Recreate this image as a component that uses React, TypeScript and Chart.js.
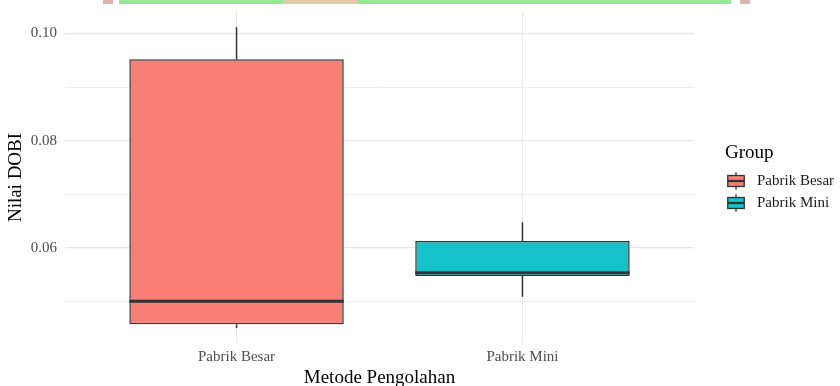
import React, { useEffect, useRef } from "react";
import { Chart, registerables } from "chart.js";

Chart.register(...registerables);

// Box-plot summary per processing method (DOBI value)
const categories = ["Pabrik Besar", "Pabrik Mini"];
const whiskerLow = [0.0451, 0.0509];
const quartile1 = [0.0458, 0.0548];
const medians = [0.0501, 0.0554];
const quartile3 = [0.0952, 0.0613];
const whiskerHigh = [0.1012, 0.0648];
const fills = ["#F87E77", "#14C2C9"];

// y grid positions; only the even ones carry a label
const yGrid = [0.05, 0.06, 0.07, 0.08, 0.09, 0.1];
const yLabelled = [0.06, 0.08, 0.1];
const yMin = 0.0423;
const yMax = 0.104;

const SERIF = "'Liberation Serif', 'DejaVu Serif', serif";
const OUTLINE = "#333333";

const isLabelled = (v: number) => yLabelled.some((t) => Math.abs(t - v) < 1e-9);

// whiskers and median bars, placed with the chart's own scales
const boxParts = {
  id: "boxParts",
  afterDatasetsDraw(chart: any) {
    const { ctx, scales } = chart;
    const x = scales.x;
    const y = scales.y;
    const meta = chart.getDatasetMeta(0);
    ctx.save();
    ctx.strokeStyle = OUTLINE;
    ctx.lineCap = "butt";
    meta.data.forEach((bar: any, i: number) => {
      const cx = x.getPixelForValue(i + 1);
      const half = bar.getProps(["width"], true).width / 2;
      ctx.lineWidth = 1.5;
      ctx.beginPath();
      ctx.moveTo(cx, y.getPixelForValue(quartile3[i]));
      ctx.lineTo(cx, y.getPixelForValue(whiskerHigh[i]));
      ctx.moveTo(cx, y.getPixelForValue(quartile1[i]));
      ctx.lineTo(cx, y.getPixelForValue(whiskerLow[i]));
      ctx.stroke();
      ctx.lineWidth = 3;
      const my = y.getPixelForValue(medians[i]);
      ctx.beginPath();
      ctx.moveTo(cx - half, my);
      ctx.lineTo(cx + half, my);
      ctx.stroke();
    });
    ctx.restore();
  },
};

// legend with box-plot glyphs on the right
const groupLegend = {
  id: "groupLegend",
  afterDraw(chart: any) {
    const { ctx } = chart;
    const left = chart.chartArea.right + 31;
    ctx.save();
    ctx.fillStyle = "#000000";
    ctx.font = `19px ${SERIF}`;
    ctx.textAlign = "left";
    ctx.textBaseline = "middle";
    ctx.fillText("Group", left, 153);
    const key = 22;
    categories.forEach((name, i) => {
      const cy = 181 + i * key;
      const top = cy - key / 2;
      const cx = left + key / 2;
      ctx.strokeStyle = OUTLINE;
      ctx.lineWidth = 1.3;
      ctx.beginPath();
      ctx.moveTo(cx, top + key * 0.1);
      ctx.lineTo(cx, top + key * 0.25);
      ctx.moveTo(cx, top + key * 0.75);
      ctx.lineTo(cx, top + key * 0.9);
      ctx.stroke();
      ctx.fillStyle = fills[i];
      const bw = key * 0.75;
      const bh = key * 0.5;
      ctx.fillRect(cx - bw / 2, cy - bh / 2, bw, bh);
      ctx.strokeRect(cx - bw / 2, cy - bh / 2, bw, bh);
      ctx.lineWidth = 2.2;
      ctx.beginPath();
      ctx.moveTo(cx - bw / 2, cy);
      ctx.lineTo(cx + bw / 2, cy);
      ctx.stroke();
      ctx.fillStyle = "#1A1A1A";
      ctx.font = `15px ${SERIF}`;
      ctx.fillText(name, left + key + 10, cy);
    });
    ctx.restore();
  },
};

// page background and the thin coloured band along the top edge
const backdrop = {
  id: "backdrop",
  beforeDraw(chart: any) {
    const { ctx, width, height } = chart;
    ctx.save();
    ctx.fillStyle = "#FFFFFF";
    ctx.fillRect(0, 0, width, height);
    ctx.fillStyle = "#D9B3B3";
    ctx.fillRect(103, 0, 10, 4);
    ctx.fillRect(740, 0, 10, 4);
    ctx.fillStyle = "#93EA93";
    ctx.fillRect(119, 0, 612, 4);
    ctx.fillStyle = "#E6C9A8";
    ctx.fillRect(283, 0, 74, 4);
    ctx.restore();
  },
};

export default function App() {
  const canvasRef = useRef<HTMLCanvasElement | null>(null);

  useEffect(() => {
    const canvas = canvasRef.current;
    if (!canvas) return;
    const chart = new Chart(canvas, {
      type: "bar",
      data: {
        datasets: [
          {
            data: categories.map((_, i) => ({ x: i + 1, y: [quartile1[i], quartile3[i]] })) as any,
            backgroundColor: fills,
            borderColor: OUTLINE,
            borderWidth: 1.5,
            borderSkipped: false,
            barPercentage: 0.75,
            categoryPercentage: 1,
          },
        ],
      },
      plugins: [backdrop, boxParts, groupLegend],
      options: {
        animation: false,
        responsive: false,
        devicePixelRatio: 1,
        layout: { padding: { top: 12, right: 146, bottom: 0, left: 0 } },
        plugins: { legend: { display: false }, tooltip: { enabled: false } },
        scales: {
          x: {
            type: "linear",
            offset: false,
            min: 0.4,
            max: 2.6,
            afterBuildTicks: (scale: any) => {
              scale.ticks = categories.map((_, i) => ({ value: i + 1 }));
            },
            afterFit: (scale: any) => {
              scale.height = 43;
              scale.paddingLeft = 0;
              scale.paddingRight = 0;
            },
            ticks: {
              autoSkip: false,
              maxRotation: 0,
              padding: 5,
              color: "#4D4D4D",
              font: { family: SERIF, size: 15 },
              callback: (v: any) => categories[Number(v) - 1] ?? "",
            },
            grid: { color: "#E8E8E8", lineWidth: 1, drawTicks: false, offset: false },
            border: { display: false },
            title: {
              display: true,
              text: "Metode Pengolahan",
              color: "#000000",
              font: { family: SERIF, size: 19, lineHeight: 1 },
              padding: { top: 0, bottom: -2 },
            },
          },
          y: {
            type: "linear",
            min: yMin,
            max: yMax,
            afterBuildTicks: (scale: any) => {
              scale.ticks = yGrid.map((v) => ({ value: v }));
            },
            afterFit: (scale: any) => {
              scale.width = 65;
              scale.paddingTop = 0;
              scale.paddingBottom = 0;
            },
            ticks: {
              autoSkip: false,
              padding: 8,
              color: "#4D4D4D",
              font: { family: SERIF, size: 15 },
              callback: (v: any) => (isLabelled(Number(v)) ? Number(v).toFixed(2) : ""),
            },
            grid: {
              drawTicks: false,
              color: (c: any) => (isLabelled(c.tick?.value) ? "#E6E6E6" : "#EEEEEE"),
              lineWidth: (c: any) => (isLabelled(c.tick?.value) ? 1.2 : 1),
            },
            border: { display: false },
            title: {
              display: true,
              text: "Nilai DOBI",
              color: "#000000",
              font: { family: SERIF, size: 19, lineHeight: 1 },
              padding: { top: 7, bottom: 0 },
            },
          },
        },
      },
    });
    return () => chart.destroy();
  }, []);

  return (
    <div style={{ position: "fixed", left: 0, top: 0, width: 840, height: 386, background: "#FFFFFF" }}>
      <canvas ref={canvasRef} width={840} height={386} style={{ width: 840, height: 386, display: "block" }} />
    </div>
  );
}
